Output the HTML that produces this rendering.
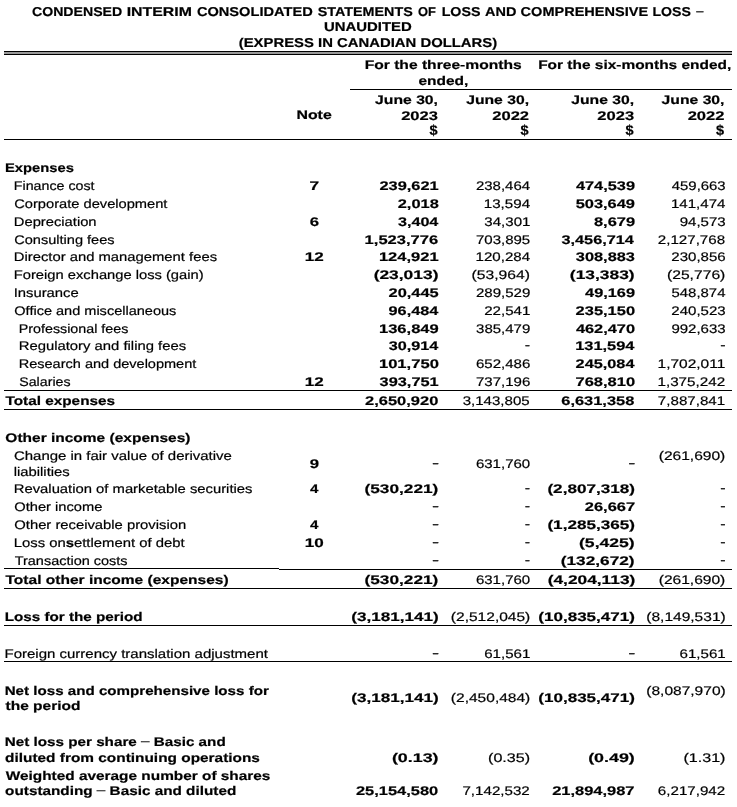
<!DOCTYPE html>
<html><head><meta charset="utf-8"><title>Statement of Loss</title>
<style>
html,body{margin:0;padding:0;background:#fff}
body{width:737px;height:807px;position:relative;overflow:hidden;font-family:"Liberation Sans",sans-serif;color:#000}
#pg{position:absolute;left:0;top:0;width:737px;height:807px;overflow:hidden;will-change:transform}
.t{position:absolute;left:0;top:0;white-space:nowrap;text-rendering:geometricPrecision;font-size:12.5px;line-height:16px;height:16px;transform-origin:0 0}
.ra{left:auto;right:737px;transform-origin:100% 0}
.r{-webkit-text-stroke:0.2px #000}
.b{font-weight:bold;-webkit-text-stroke:0.2px #000}
.n{font-weight:normal;-webkit-text-stroke:0.2px #000;position:relative;top:-1px}
.ln{position:absolute}
</style></head>
<body><div id="pg">
<span class="t b" style="font-size:12.8px;transform:translate(32.02px,4.00px) scaleX(1.1025)">CONDENSED</span>
<span class="t b" style="font-size:12.8px;transform:translate(126.64px,4.00px) scaleX(1.2395)">INTERIM</span>
<span class="t b" style="font-size:12.8px;transform:translate(196.90px,4.00px) scaleX(1.1416)">CONSOLIDATED</span>
<span class="t b" style="font-size:12.8px;transform:translate(317.79px,4.00px) scaleX(1.1192)">STATEMENTS</span>
<span class="t b" style="font-size:12.8px;transform:translate(418.07px,4.00px) scaleX(1.0070)">OF</span>
<span class="t b" style="font-size:12.8px;transform:translate(441.65px,4.00px) scaleX(1.1136)">LOSS</span>
<span class="t b" style="font-size:12.8px;transform:translate(485.04px,4.00px) scaleX(1.1311)">AND</span>
<span class="t b" style="font-size:12.8px;transform:translate(520.60px,4.00px) scaleX(1.1351)">COMPREHENSIVE</span>
<span class="t b" style="font-size:12.8px;transform:translate(652.46px,4.00px) scaleX(1.1017)">LOSS</span>
<span class="t r" style="font-size:12.8px;transform:translate(696.20px,3.00px) scaleX(1.0121)">–</span>
<span class="t b" style="font-size:12.8px;transform:translate(323.90px,19.00px) scaleX(1.1665)">UNAUDITED</span>
<span class="t b" style="font-size:12.8px;transform:translate(238.76px,35.00px) scaleX(1.1613)">(EXPRESS IN CANADIAN DOLLARS)</span>
<div class="ln" style="left:4px;top:51px;width:728px;height:4px;background:#999"></div>
<div class="ln" style="left:4px;top:51px;width:728px;height:1px;background:#000"></div>
<div class="ln" style="left:4px;top:54px;width:728px;height:1px;background:#000"></div>
<span class="t b" style="transform:translate(364.66px,57.00px) scaleX(1.2489)">For the three-months</span>
<span class="t b" style="transform:translate(418.39px,73.00px) scaleX(1.2398)">ended,</span>
<span class="t b" style="transform:translate(538.17px,57.00px) scaleX(1.2355)">For the six-months ended,</span>
<div class="ln" style="left:350px;top:89px;width:382px;height:1px;background:#000"></div>
<div class="ln" style="left:4px;top:139px;width:728px;height:1px;background:#000"></div>
<span class="t b" style="transform:translate(296.44px,107.00px) scaleX(1.2710)">Note</span>
<span class="t b ra" style="transform:translate(437.95px,92.00px) scaleX(1.2571)">June 30,</span>
<span class="t b ra" style="transform:translate(438.10px,108.00px) scaleX(1.3223)">2023</span>
<span class="t b ra" style="font-size:14.2px;transform:translate(437.61px,123.00px) scaleX(1.0252)">$</span>
<span class="t b ra" style="transform:translate(529.05px,92.00px) scaleX(1.2571)">June 30,</span>
<span class="t b ra" style="transform:translate(529.26px,108.00px) scaleX(1.3247)">2022</span>
<span class="t b ra" style="font-size:14.2px;transform:translate(528.71px,123.00px) scaleX(1.0252)">$</span>
<span class="t b ra" style="transform:translate(634.15px,92.00px) scaleX(1.2571)">June 30,</span>
<span class="t b ra" style="transform:translate(634.30px,108.00px) scaleX(1.3223)">2023</span>
<span class="t b ra" style="font-size:14.2px;transform:translate(633.81px,123.00px) scaleX(1.0252)">$</span>
<span class="t b ra" style="transform:translate(724.45px,92.00px) scaleX(1.2571)">June 30,</span>
<span class="t b ra" style="transform:translate(724.66px,108.00px) scaleX(1.3247)">2022</span>
<span class="t b ra" style="font-size:14.2px;transform:translate(724.11px,123.00px) scaleX(1.0252)">$</span>
<span class="t b" style="transform:translate(5.01px,160.00px) scaleX(1.1803)">Expenses</span>
<span class="t r" style="transform:translate(13.83px,178.00px) scaleX(1.1383)">Finance cost</span>
<span class="t b" style="transform:translate(309.61px,178.00px) scaleX(1.3806)">7</span>
<span class="t b ra" style="transform:translate(438.46px,178.00px) scaleX(1.3112)">239,621</span>
<span class="t r ra" style="transform:translate(529.84px,178.00px) scaleX(1.1970)">238,464</span>
<span class="t b ra" style="transform:translate(634.81px,178.00px) scaleX(1.3074)">474,539</span>
<span class="t r ra" style="transform:translate(725.46px,178.00px) scaleX(1.1927)">459,663</span>
<span class="t r" style="transform:translate(14.26px,196.00px) scaleX(1.1724)">Corporate development</span>
<span class="t b ra" style="transform:translate(438.51px,196.00px) scaleX(1.3138)">2,018</span>
<span class="t r ra" style="transform:translate(529.84px,196.00px) scaleX(1.2108)">13,594</span>
<span class="t b ra" style="transform:translate(634.81px,196.00px) scaleX(1.3132)">503,649</span>
<span class="t r ra" style="transform:translate(725.24px,196.00px) scaleX(1.2058)">141,474</span>
<span class="t r" style="transform:translate(13.79px,214.00px) scaleX(1.1794)">Depreciation</span>
<span class="t b" style="transform:translate(309.74px,214.00px) scaleX(1.3402)">6</span>
<span class="t b ra" style="transform:translate(438.09px,214.00px) scaleX(1.2941)">3,404</span>
<span class="t r ra" style="transform:translate(530.13px,214.00px) scaleX(1.2032)">34,301</span>
<span class="t b ra" style="transform:translate(634.81px,214.00px) scaleX(1.3156)">8,679</span>
<span class="t r ra" style="transform:translate(725.46px,214.00px) scaleX(1.2048)">94,573</span>
<span class="t r" style="transform:translate(14.26px,232.00px) scaleX(1.1636)">Consulting fees</span>
<span class="t b ra" style="transform:translate(438.60px,232.00px) scaleX(1.3233)">1,523,776</span>
<span class="t r ra" style="transform:translate(530.03px,232.00px) scaleX(1.2016)">703,895</span>
<span class="t b ra" style="transform:translate(634.29px,232.00px) scaleX(1.3021)">3,456,714</span>
<span class="t r ra" style="transform:translate(725.46px,232.00px) scaleX(1.2085)">2,127,768</span>
<span class="t r" style="transform:translate(13.79px,249.00px) scaleX(1.1843)">Director and management fees</span>
<span class="t b" style="transform:translate(304.73px,249.00px) scaleX(1.3632)">12</span>
<span class="t b ra" style="transform:translate(438.46px,249.00px) scaleX(1.3217)">124,921</span>
<span class="t r ra" style="transform:translate(529.84px,249.00px) scaleX(1.2058)">120,284</span>
<span class="t b ra" style="transform:translate(634.79px,249.00px) scaleX(1.3099)">308,883</span>
<span class="t r ra" style="transform:translate(725.46px,249.00px) scaleX(1.2020)">230,856</span>
<span class="t r" style="transform:translate(13.79px,267.00px) scaleX(1.1775)">Foreign exchange loss (gain)</span>
<span class="t b ra" style="transform:translate(438.87px,267.00px) scaleX(1.3911)">(23,013)</span>
<span class="t r ra" style="transform:translate(530.37px,267.00px) scaleX(1.2534)">(53,964)</span>
<span class="t b ra" style="transform:translate(635.07px,267.00px) scaleX(1.3911)">(13,383)</span>
<span class="t r ra" style="transform:translate(725.77px,267.00px) scaleX(1.2534)">(25,776)</span>
<span class="t r" style="transform:translate(13.63px,285.00px) scaleX(1.1864)">Insurance</span>
<span class="t b ra" style="transform:translate(438.46px,285.00px) scaleX(1.3116)">20,445</span>
<span class="t r ra" style="transform:translate(530.11px,285.00px) scaleX(1.2031)">289,529</span>
<span class="t b ra" style="transform:translate(634.81px,285.00px) scaleX(1.3072)">49,169</span>
<span class="t r ra" style="transform:translate(725.24px,285.00px) scaleX(1.1935)">548,874</span>
<span class="t r" style="transform:translate(14.31px,303.00px) scaleX(1.1620)">Office and miscellaneous</span>
<span class="t b ra" style="transform:translate(438.09px,303.00px) scaleX(1.3019)">96,484</span>
<span class="t r ra" style="transform:translate(530.14px,303.00px) scaleX(1.2082)">22,541</span>
<span class="t b ra" style="transform:translate(634.87px,303.00px) scaleX(1.3161)">235,150</span>
<span class="t r ra" style="transform:translate(725.46px,303.00px) scaleX(1.2020)">240,523</span>
<span class="t r" style="transform:translate(18.73px,321.00px) scaleX(1.1429)">Professional fees</span>
<span class="t b ra" style="transform:translate(438.61px,321.00px) scaleX(1.3252)">136,849</span>
<span class="t r ra" style="transform:translate(530.11px,321.00px) scaleX(1.1990)">385,479</span>
<span class="t b ra" style="transform:translate(634.87px,321.00px) scaleX(1.3088)">462,470</span>
<span class="t r ra" style="transform:translate(725.46px,321.00px) scaleX(1.2008)">992,633</span>
<span class="t r" style="transform:translate(18.68px,338.00px) scaleX(1.1871)">Regulatory and filing fees</span>
<span class="t b ra" style="transform:translate(438.09px,338.00px) scaleX(1.2968)">30,914</span>
<span class="t r ra" style="transform:translate(530.01px,337.00px) scaleX(1.2773)">-</span>
<span class="t b ra" style="transform:translate(634.29px,338.00px) scaleX(1.3133)">131,594</span>
<span class="t r ra" style="transform:translate(725.41px,337.00px) scaleX(1.2773)">-</span>
<span class="t r" style="transform:translate(18.71px,356.00px) scaleX(1.1617)">Research and development</span>
<span class="t b ra" style="transform:translate(438.68px,356.00px) scaleX(1.3267)">101,750</span>
<span class="t r ra" style="transform:translate(530.06px,356.00px) scaleX(1.2021)">652,486</span>
<span class="t b ra" style="transform:translate(634.29px,356.00px) scaleX(1.3029)">245,084</span>
<span class="t r ra" style="transform:translate(725.56px,356.00px) scaleX(1.2385)">1,702,011</span>
<span class="t r" style="transform:translate(19.26px,374.00px) scaleX(1.1350)">Salaries</span>
<span class="t b" style="transform:translate(304.73px,374.00px) scaleX(1.3632)">12</span>
<span class="t b ra" style="transform:translate(438.45px,374.00px) scaleX(1.3069)">393,751</span>
<span class="t r ra" style="transform:translate(530.06px,374.00px) scaleX(1.2023)">737,196</span>
<span class="t b ra" style="transform:translate(634.88px,374.00px) scaleX(1.3192)">768,810</span>
<span class="t r ra" style="transform:translate(725.57px,374.00px) scaleX(1.2177)">1,375,242</span>
<div class="ln" style="left:4px;top:390px;width:728px;height:1px;background:#000"></div>
<span class="t b" style="transform:translate(5.53px,393.00px) scaleX(1.2250)">Total expenses</span>
<span class="t b ra" style="transform:translate(438.67px,393.00px) scaleX(1.3162)">2,650,920</span>
<span class="t r ra" style="transform:translate(530.03px,393.00px) scaleX(1.2048)">3,143,805</span>
<span class="t b ra" style="transform:translate(634.71px,393.00px) scaleX(1.3137)">6,631,358</span>
<span class="t r ra" style="transform:translate(725.54px,393.00px) scaleX(1.2103)">7,887,841</span>
<div class="ln" style="left:4px;top:409px;width:728px;height:1px;background:#000"></div>
<span class="t b" style="transform:translate(5.36px,430.00px) scaleX(1.2394)">Other income (expenses)</span>
<span class="t r" style="transform:translate(13.94px,448.00px) scaleX(1.1971)">Change in fair value of derivative</span>
<span class="t r" style="transform:translate(13.70px,464.00px) scaleX(1.1861)">liabilities</span>
<span class="t b" style="transform:translate(309.77px,456.00px) scaleX(1.3375)">9</span>
<span class="t r ra" style="transform:translate(439.05px,455.00px) scaleX(1.7031)">-</span>
<span class="t r ra" style="transform:translate(529.99px,456.00px) scaleX(1.2005)">631,760</span>
<span class="t r ra" style="transform:translate(635.25px,455.00px) scaleX(1.7031)">-</span>
<span class="t r ra" style="transform:translate(725.76px,448.00px) scaleX(1.2435)">(261,690)</span>
<span class="t r" style="transform:translate(13.79px,481.00px) scaleX(1.1844)">Revaluation of marketable securities</span>
<span class="t b" style="transform:translate(310.12px,481.00px) scaleX(1.2095)">4</span>
<span class="t b ra" style="transform:translate(438.86px,481.00px) scaleX(1.3802)">(530,221)</span>
<span class="t r ra" style="transform:translate(530.01px,480.00px) scaleX(1.2773)">-</span>
<span class="t b ra" style="transform:translate(635.05px,481.00px) scaleX(1.3696)">(2,807,318)</span>
<span class="t r ra" style="transform:translate(725.41px,480.00px) scaleX(1.2773)">-</span>
<span class="t r" style="transform:translate(14.31px,499.00px) scaleX(1.1735)">Other income</span>
<span class="t r ra" style="transform:translate(439.05px,498.00px) scaleX(1.7031)">-</span>
<span class="t r ra" style="transform:translate(530.01px,498.00px) scaleX(1.2773)">-</span>
<span class="t b ra" style="transform:translate(634.92px,499.00px) scaleX(1.3187)">26,667</span>
<span class="t r ra" style="transform:translate(725.41px,498.00px) scaleX(1.2773)">-</span>
<span class="t r" style="transform:translate(14.30px,517.00px) scaleX(1.1835)">Other receivable provision</span>
<span class="t b" style="transform:translate(310.12px,517.00px) scaleX(1.2095)">4</span>
<span class="t r ra" style="transform:translate(439.05px,516.00px) scaleX(1.7031)">-</span>
<span class="t r ra" style="transform:translate(530.01px,516.00px) scaleX(1.2773)">-</span>
<span class="t b ra" style="transform:translate(635.05px,517.00px) scaleX(1.3696)">(1,285,365)</span>
<span class="t r ra" style="transform:translate(725.41px,516.00px) scaleX(1.2773)">-</span>
<span class="t r" style="transform:translate(13.78px,535.00px) scaleX(1.1868)">Loss on<b>s</b>ettlement of debt</span>
<span class="t b" style="transform:translate(304.73px,535.00px) scaleX(1.3645)">10</span>
<span class="t r ra" style="transform:translate(439.05px,534.00px) scaleX(1.7031)">-</span>
<span class="t r ra" style="transform:translate(530.01px,534.00px) scaleX(1.2773)">-</span>
<span class="t b ra" style="transform:translate(635.08px,535.00px) scaleX(1.4060)">(5,425)</span>
<span class="t r ra" style="transform:translate(725.41px,534.00px) scaleX(1.2773)">-</span>
<span class="t r" style="transform:translate(14.68px,553.00px) scaleX(1.1575)">Transaction costs</span>
<span class="t r ra" style="transform:translate(439.05px,552.00px) scaleX(1.7031)">-</span>
<span class="t r ra" style="transform:translate(530.01px,552.00px) scaleX(1.2773)">-</span>
<span class="t b ra" style="transform:translate(635.06px,553.00px) scaleX(1.3802)">(132,672)</span>
<span class="t r ra" style="transform:translate(725.41px,552.00px) scaleX(1.2773)">-</span>
<div class="ln" style="left:4px;top:568px;width:275px;height:1px;background:#000"></div>
<div class="ln" style="left:279px;top:569px;width:453px;height:1px;background:#000"></div>
<span class="t b" style="transform:translate(5.53px,572.00px) scaleX(1.2420)">Total other income (expenses)</span>
<span class="t b ra" style="transform:translate(438.86px,572.00px) scaleX(1.3802)">(530,221)</span>
<span class="t r ra" style="transform:translate(529.99px,572.00px) scaleX(1.2005)">631,760</span>
<span class="t b ra" style="transform:translate(635.06px,572.00px) scaleX(1.3848)">(4,204,113)</span>
<span class="t r ra" style="transform:translate(725.76px,572.00px) scaleX(1.2435)">(261,690)</span>
<div class="ln" style="left:4px;top:588px;width:728px;height:1px;background:#000"></div>
<span class="t b" style="transform:translate(4.68px,609.00px) scaleX(1.2184)">Loss for the period</span>
<span class="t b ra" style="transform:translate(438.85px,609.00px) scaleX(1.3696)">(3,181,141)</span>
<span class="t r ra" style="transform:translate(530.36px,609.00px) scaleX(1.2424)">(2,512,045)</span>
<span class="t b ra" style="transform:translate(635.05px,609.00px) scaleX(1.3635)">(10,835,471)</span>
<span class="t r ra" style="transform:translate(725.76px,609.00px) scaleX(1.2424)">(8,149,531)</span>
<div class="ln" style="left:4px;top:625px;width:728px;height:1px;background:#000"></div>
<span class="t r" style="transform:translate(4.47px,646.00px) scaleX(1.1999)">Foreign currency translation adjustment</span>
<span class="t r ra" style="transform:translate(439.05px,645.00px) scaleX(1.7031)">-</span>
<span class="t r ra" style="transform:translate(530.14px,646.00px) scaleX(1.2084)">61,561</span>
<span class="t r ra" style="transform:translate(635.25px,645.00px) scaleX(1.7031)">-</span>
<span class="t r ra" style="transform:translate(725.54px,646.00px) scaleX(1.2084)">61,561</span>
<div class="ln" style="left:4px;top:661px;width:728px;height:1px;background:#000"></div>
<span class="t b" style="transform:translate(4.69px,683.00px) scaleX(1.2110)">Net loss and comprehensive loss for</span>
<span class="t b" style="transform:translate(5.51px,698.00px) scaleX(1.2398)">the period</span>
<span class="t b ra" style="transform:translate(438.85px,690.00px) scaleX(1.3696)">(3,181,141)</span>
<span class="t r ra" style="transform:translate(530.36px,690.00px) scaleX(1.2424)">(2,450,484)</span>
<span class="t b ra" style="transform:translate(635.05px,690.00px) scaleX(1.3635)">(10,835,471)</span>
<span class="t r ra" style="transform:translate(725.76px,683.00px) scaleX(1.2424)">(8,087,970)</span>
<span class="t b" style="transform:translate(4.68px,734.00px) scaleX(1.2189)">Net loss per share <span class="n">–</span> Basic and</span>
<span class="t b" style="transform:translate(5.07px,750.00px) scaleX(1.2316)">diluted from continuing operations</span>
<span class="t b ra" style="transform:translate(438.89px,750.00px) scaleX(1.4275)">(0.13)</span>
<span class="t r ra" style="transform:translate(530.40px,750.00px) scaleX(1.2863)">(0.35)</span>
<span class="t b ra" style="transform:translate(635.09px,750.00px) scaleX(1.4275)">(0.49)</span>
<span class="t r ra" style="transform:translate(725.80px,750.00px) scaleX(1.2863)">(1.31)</span>
<span class="t b" style="transform:translate(5.68px,768.00px) scaleX(1.2307)">Weighted average number of shares</span>
<span class="t b" style="transform:translate(5.10px,783.00px) scaleX(1.2234)">outstanding <span class="n">–</span> Basic and diluted</span>
<span class="t b ra" style="transform:translate(438.67px,783.00px) scaleX(1.3153)">25,154,580</span>
<span class="t r ra" style="transform:translate(530.16px,783.00px) scaleX(1.2107)">7,142,532</span>
<span class="t b ra" style="transform:translate(634.92px,783.00px) scaleX(1.3161)">21,894,987</span>
<span class="t r ra" style="transform:translate(725.56px,783.00px) scaleX(1.2106)">6,217,942</span>
</div></body></html>
